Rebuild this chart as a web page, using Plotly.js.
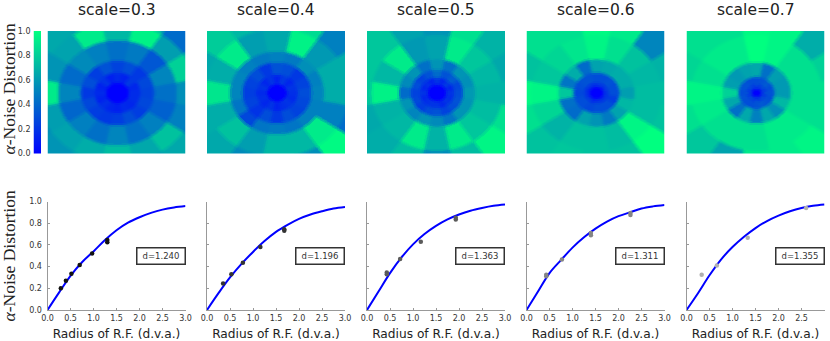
<!DOCTYPE html>
<html>
<head>
<meta charset="utf-8">
<script src="https://cdn.plot.ly/plotly-3.0.1.min.js"></script>
<style>html,body{margin:0;padding:0;background:#fff}</style>
</head>
<body>
<div id="chart" style="width:830px;height:341px"></div>
<script>
const scales = ['scale=0.3', 'scale=0.4', 'scale=0.5', 'scale=0.6', 'scale=0.7'];
const fitLabels = ['d=1.240', 'd=1.196', 'd=1.363', 'd=1.311', 'd=1.355'];

// each ring has 16 sectors, counter-clockwise starting from east
const ringEdges03 = [0.165, 0.33, 0.53, 0.86, 1.15, 1.6];
const rings03 = [
  [0.17, 0.15, 0.22, 0.13, 0.16, 0.12, 0.2, 0.13, 0.16, 0.13, 0.18, 0.14, 0.12, 0.16, 0.15, 0.17],
  [0.26, 0.28, 0.22, 0.3, 0.26, 0.32, 0.24, 0.3, 0.22, 0.28, 0.24, 0.22, 0.24, 0.3, 0.24, 0.28],
  [0.44, 0.52, 0.34, 0.48, 0.44, 0.5, 0.54, 0.42, 0.52, 0.4, 0.5, 0.44, 0.52, 0.44, 0.5, 0.38],
  [0.56, 0.82, 0.62, 0.95, 0.72, 0.92, 0.64, 0.58, 0.92, 0.62, 0.64, 0.68, 0.74, 0.66, 0.76, 0.5],
  [0.5, 0.66, 0.42, 0.72, 0.66, 0.64, 0.66, 0.58, 0.66, 0.55, 0.58, 0.62, 0.6, 0.62, 0.66, 0.46]
];
const ringEdges04 = [0.14, 0.3, 0.5, 0.68, 1.05, 1.6];
const rings04 = [
  [0.18, 0.2, 0.15, 0.22, 0.13, 0.2, 0.15, 0.2, 0.16, 0.18, 0.15, 0.2, 0.13, 0.18, 0.2, 0.16],
  [0.3, 0.26, 0.22, 0.3, 0.32, 0.22, 0.3, 0.26, 0.24, 0.26, 0.2, 0.3, 0.22, 0.3, 0.26, 0.28],
  [0.52, 0.5, 0.56, 0.48, 0.5, 0.48, 0.5, 0.52, 0.52, 0.46, 0.28, 0.46, 0.48, 0.46, 0.5, 0.5],
  [0.68, 0.68, 0.6, 0.95, 0.66, 0.62, 0.92, 0.68, 0.9, 0.68, 0.76, 0.62, 0.72, 0.72, 0.92, 0.5],
  [0.62, 0.68, 0.5, 0.86, 0.68, 0.72, 0.8, 0.66, 0.76, 0.68, 0.66, 0.54, 0.74, 0.56, 0.98, 0.42]
];
const ringEdges05 = [0.133, 0.25, 0.38, 0.55, 0.95, 1.6];
const rings05 = [
  [0.2, 0.15, 0.22, 0.15, 0.2, 0.13, 0.18, 0.15, 0.2, 0.15, 0.18, 0.2, 0.2, 0.15, 0.2, 0.18],
  [0.3, 0.28, 0.36, 0.32, 0.42, 0.32, 0.26, 0.3, 0.26, 0.28, 0.24, 0.3, 0.32, 0.26, 0.3, 0.32],
  [0.6, 0.56, 0.58, 0.44, 0.58, 0.44, 0.58, 0.54, 0.42, 0.58, 0.52, 0.58, 0.54, 0.46, 0.58, 0.58],
  [0.7, 0.72, 0.78, 0.92, 0.64, 0.6, 0.92, 0.72, 0.95, 0.7, 0.72, 0.92, 0.7, 0.92, 0.78, 0.74],
  [0.7, 0.66, 0.7, 0.88, 0.58, 0.64, 0.78, 0.78, 0.78, 0.66, 0.68, 0.74, 0.54, 0.74, 0.96, 0.88]
];
const ringEdges06 = [0.1, 0.17, 0.33, 0.55, 0.95, 1.6];
const rings06 = [
  [0.2, 0.22, 0.18, 0.22, 0.2, 0.18, 0.2, 0.16, 0.2, 0.18, 0.22, 0.16, 0.2, 0.2, 0.18, 0.2],
  [0.3, 0.3, 0.32, 0.3, 0.3, 0.32, 0.32, 0.3, 0.28, 0.3, 0.3, 0.28, 0.3, 0.3, 0.3, 0.24],
  [0.62, 0.68, 0.68, 0.66, 0.64, 0.42, 0.68, 0.46, 0.78, 0.44, 0.42, 0.64, 0.58, 0.48, 0.64, 0.72],
  [0.74, 0.72, 0.76, 0.88, 0.96, 0.9, 0.84, 0.78, 0.96, 0.84, 0.7, 0.76, 0.76, 0.74, 0.96, 0.74],
  [0.74, 0.7, 0.52, 0.92, 0.98, 0.88, 0.88, 0.76, 0.98, 0.88, 0.76, 0.78, 0.76, 0.76, 1, 0.76]
];
const ringEdges07 = [0.068, 0.14, 0.26, 0.5, 0.95, 1.6];
const rings07 = [
  [0.3, 0.2, 0.28, 0.2, 0.28, 0.2, 0.28, 0.2, 0.3, 0.2, 0.3, 0.22, 0.28, 0.2, 0.3, 0.2],
  [0.32, 0.3, 0.35, 0.32, 0.3, 0.3, 0.32, 0.32, 0.3, 0.32, 0.3, 0.3, 0.32, 0.35, 0.32, 0.3],
  [0.6, 0.6, 0.62, 0.44, 0.66, 0.64, 0.6, 0.62, 0.82, 0.66, 0.44, 0.66, 0.5, 0.66, 0.56, 0.72],
  [0.88, 0.88, 0.88, 0.96, 1, 0.92, 0.92, 0.88, 0.96, 0.92, 0.88, 0.88, 0.88, 0.92, 0.92, 0.88],
  [0.88, 0.82, 0.68, 0.96, 0.98, 0.88, 0.88, 0.84, 0.96, 0.88, 0.78, 0.64, 0.92, 0.92, 0.96, 0.88]
];
const ringEdges = [ringEdges03, ringEdges04, ringEdges05, ringEdges06, ringEdges07];
const ringTables = [rings03, rings04, rings05, rings06, rings07];

const colorbarLevels = [0, 0.1, 0.2, 0.3, 0.4, 0.5, 0.6, 0.7, 0.8, 0.9, 1];

// fitted curves, read at the same radii for every panel
const curveX = [0, 0.25, 0.5, 0.75, 1, 1.25, 1.5, 1.75, 2, 2.25, 2.5, 2.75, 3];
const curve03 = [0, 0.16, 0.315, 0.44, 0.54, 0.645, 0.735, 0.805, 0.855, 0.895, 0.925, 0.945, 0.958];
const curve04 = [0, 0.155, 0.3, 0.425, 0.535, 0.635, 0.72, 0.785, 0.84, 0.88, 0.91, 0.935, 0.95];
const curve05 = [0, 0.17, 0.34, 0.485, 0.605, 0.7, 0.775, 0.835, 0.88, 0.915, 0.94, 0.96, 0.972];
const curve06 = [0, 0.17, 0.34, 0.46, 0.575, 0.67, 0.75, 0.815, 0.865, 0.9, 0.935, 0.955, 0.968];
const curve07 = [0, 0.155, 0.32, 0.465, 0.58, 0.675, 0.755, 0.82, 0.87, 0.91, 0.94, 0.96, 0.972];
const curves = [curve03, curve04, curve05, curve06, curve07];

const pointsX03 = [0.29, 0.4, 0.52, 0.7, 0.97, 1.3, 1.3];
const pointsY03 = [0.2, 0.27, 0.335, 0.415, 0.52, 0.645, 0.625];
const pointsX04 = [0.35, 0.53, 0.78, 1.16, 1.68, 1.68];
const pointsY04 = [0.245, 0.33, 0.435, 0.58, 0.745, 0.73];
const pointsX05 = [0.43, 0.43, 0.72, 1.17, 1.93, 1.93];
const pointsY05 = [0.345, 0.33, 0.47, 0.63, 0.85, 0.835];
const pointsX06 = [0.43, 0.43, 0.77, 1.4, 1.4, 2.26, 2.26];
const pointsY06 = [0.325, 0.31, 0.465, 0.71, 0.69, 0.895, 0.875];
const pointsX07 = [0.33, 0.66, 1.33, 2.6];
const pointsY07 = [0.325, 0.41, 0.665, 0.94];
const pointsX = [pointsX03, pointsX04, pointsX05, pointsX06, pointsX07];
const pointsY = [pointsY03, pointsY04, pointsY05, pointsY06, pointsY07];
const pointColors = ['#111111', '#333333', '#5a5a5a', '#858585', '#b0b0b0'];

const panelLeft = [47.5, 207, 367, 526.5, 686.5];
const panelWidth = 138;
const W = 830, H = 341;

const winter = [[0, '#0000ff'], [1, '#00ff80']];
const textFont = {family: 'DejaVu Sans, sans-serif'};

// looks up the table for one panel on a grid of cells, a few samples
// per cell so the wedge edges stay soft like the blurred reference
const lookup = (edges, table, x, y) => {
  const r = Math.sqrt(x * x + y * y);
  if (r < edges[0]) return 0;
  let ring = edges.findIndex(e => r < e) - 1;
  if (ring < 0) ring = table.length - 1;
  const deg = (Math.atan2(y, x) * 180 / Math.PI + 360 + 11.25) % 360;
  return table[ring][Math.floor(deg / 22.5)];
};

const rasterize = (edges, table) => {
  const xs = [], ys = [], z = [];
  const soft = [[0, 0], [0.03, 0], [-0.03, 0], [0, 0.03], [0, -0.03]];
  for (let i = 0; i < 138; i++) xs.push(-1 + (i + 0.5) * 2 / 138);
  for (let j = 0; j < 122; j++) ys.push(-1 + (j + 0.5) * 2 / 122);
  ys.forEach(y => {
    z.push(xs.map(x => soft.reduce((s, o) => s + lookup(edges, table, x + o[0], y + o[1]), 0) / soft.length));
  });
  return {x: xs, y: ys, z: z};
};

const data = [];
const layout = {
  width: W, height: H,
  margin: {l: 0, r: 0, t: 0, b: 0},
  paper_bgcolor: '#fff', plot_bgcolor: '#fff',
  showlegend: false,
  annotations: []
};

const domX = (px, w) => [px / W, (px + w) / W];
const domY = (top, bottom) => [1 - bottom / H, 1 - top / H];

scales.forEach((name, i) => {
  const heatX = 'x' + (i + 1), heatY = 'y' + (i + 1);
  const heatXKey = i === 0 ? 'xaxis' : 'xaxis' + (i + 1);
  const heatYKey = i === 0 ? 'yaxis' : 'yaxis' + (i + 1);
  const cells = rasterize(ringEdges[i], ringTables[i]);
  data.push({
    type: 'heatmap', x: cells.x, y: cells.y, z: cells.z,
    xaxis: heatX, yaxis: heatY,
    colorscale: winter, zmin: 0, zmax: 1, showscale: false, zsmooth: 'best'
  });
  layout[heatXKey] = {domain: domX(panelLeft[i], panelWidth), range: [-1, 1], visible: false};
  layout[heatYKey] = {domain: domY(31, 153.5), range: [-1, 1], visible: false};

  const lineN = i + 6;
  data.push({
    x: curveX, y: curves[i], mode: 'lines',
    xaxis: 'x' + lineN, yaxis: 'y' + lineN,
    line: {color: '#0000ff', width: 2, shape: 'spline'}
  });
  data.push({
    x: pointsX[i], y: pointsY[i], mode: 'markers',
    xaxis: 'x' + lineN, yaxis: 'y' + lineN,
    marker: {color: pointColors[i], size: 4.5}
  });
  layout['xaxis' + lineN] = {
    domain: domX(panelLeft[i], panelWidth), anchor: 'y' + lineN,
    range: [0, 3], dtick: 0.5, tickformat: '.1f',
    showgrid: false, zeroline: false, showline: true, linecolor: '#999', linewidth: 1,
    ticks: 'inside', ticklen: 2, tickcolor: '#999',
    tickfont: {...textFont, size: 8, color: '#333'},
    title: {text: 'Radius of R.F. (d.v.a.)', font: {...textFont, size: 12.2, color: '#222'}, standoff: 9}
  };
  layout['yaxis' + lineN] = {
    domain: domY(201.5, 310), anchor: 'x' + lineN,
    range: [0, 1], dtick: 0.2, tickformat: '.1f',
    showticklabels: i === 0, ticklabelstandoff: 3,
    showgrid: false, zeroline: false, showline: true, linecolor: '#999', linewidth: 1,
    ticks: 'inside', ticklen: 2, tickcolor: '#999',
    tickfont: {...textFont, size: 8, color: '#333'}
  };

  layout.annotations.push({
    xref: 'paper', yref: 'paper', x: (panelLeft[i] + panelWidth / 2) / W, y: 1,
    xanchor: 'center', yanchor: 'top', borderpad: 0,
    text: name, showarrow: false, font: {...textFont, size: 15.5, color: '#222'}
  });
  layout.annotations.push({
    xref: 'x' + lineN, yref: 'y' + lineN, x: 2.465, y: 0.494,
    xanchor: 'center', yanchor: 'middle',
    text: fitLabels[i], showarrow: false, width: 47, height: 15,
    bordercolor: '#333', borderwidth: 1.5, borderpad: 0, bgcolor: '#fff',
    font: {...textFont, size: 8.5, color: '#333'}
  });
});

// the colorbar is a thin heatmap of its own, its ticks sit on the left
data.push({
  type: 'heatmap', x: [0, 1], y: colorbarLevels,
  z: colorbarLevels.map(v => [v, v]),
  xaxis: 'x11', yaxis: 'y11',
  colorscale: winter, zmin: 0, zmax: 1, showscale: false, zsmooth: 'best'
});
layout.xaxis11 = {domain: domX(33.5, 7.5), range: [0, 1], visible: false, anchor: 'y11'};
layout.yaxis11 = {
  domain: domY(31, 153.5), anchor: 'x11', range: [0, 1], dtick: 0.2, tickformat: '.1f',
  showgrid: false, zeroline: false, showline: false, ticks: '', ticklabelstandoff: 2,
  tickfont: {...textFont, size: 8, color: '#333'}
};

[89, 256].forEach(mid => {
  layout.annotations.push({
    xref: 'paper', yref: 'paper', x: 8.5 / W, y: 1 - mid / H, textangle: -90,
    xanchor: 'center', yanchor: 'middle',
    text: '<i>α</i>-Noise Distortion', showarrow: false,
    font: {family: 'Liberation Serif, serif', size: 17.5, color: '#222'}
  });
});

Plotly.newPlot('chart', data, layout, {displayModeBar: false});
</script>
</body>
</html>
